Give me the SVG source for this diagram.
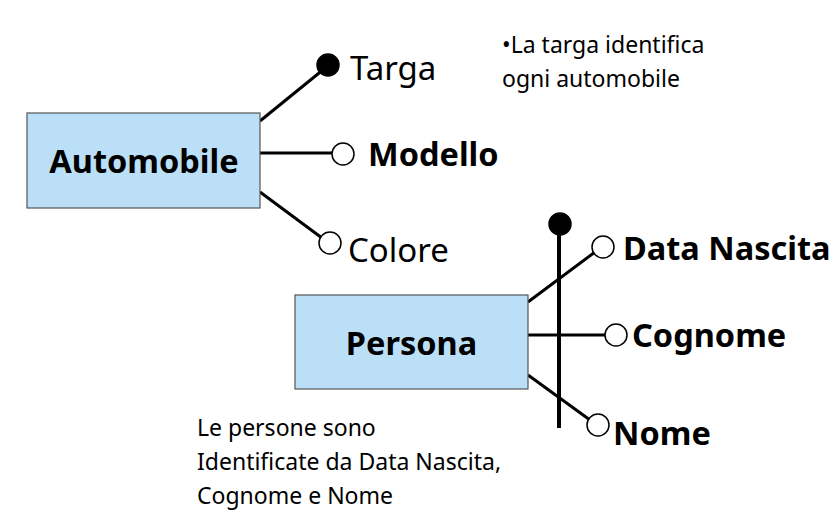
<svg xmlns="http://www.w3.org/2000/svg" width="838" height="522" viewBox="0 0 838 522">
<style>
.ent{fill:#bbdff7;stroke:#555;stroke-width:1.2}
.lbl{font-family:"Noto Sans","Open Sans",sans-serif;fill:#000}
.b{font-weight:bold;font-size:32.5px}
.n{font-size:33px}
.s{font-size:23px}
.ln{stroke:#000;stroke-width:3;fill:none}
.oc{fill:#fff;stroke:#000;stroke-width:1.5}
.fc{fill:#000;stroke:#000;stroke-width:1.5}
</style>
<rect width="838" height="522" fill="#fff"/>
<g id="connectors">
<line class="ln" x1="260" y1="121" x2="324" y2="69"/>
<line class="ln" x1="260" y1="153" x2="332" y2="153"/>
<line class="ln" x1="260" y1="192" x2="322" y2="238"/>
<line class="ln" x1="559" y1="226" x2="559" y2="428" style="stroke-width:4"/>
<line class="ln" x1="528" y1="302" x2="595" y2="252"/>
<line class="ln" x1="528" y1="335" x2="605" y2="335"/>
<line class="ln" x1="528" y1="375" x2="590" y2="420"/>
</g>
<g id="automobile">
<rect class="ent" x="27" y="113" width="233" height="95"/>
<text class="lbl b" x="144" y="173" text-anchor="middle">Automobile</text>
</g>
<g id="targa">
<circle class="fc" cx="328" cy="65" r="11"/>
<text class="lbl n" x="350" y="80">Targa</text>
</g>
<g id="modello">
<circle class="oc" cx="343" cy="154" r="11"/>
<text class="lbl b" x="368" y="166">Modello</text>
</g>
<g id="colore">
<circle class="oc" cx="330" cy="243" r="11"/>
<text class="lbl n" x="348" y="262">Colore</text>
</g>
<g id="persona">
<rect class="ent" x="295" y="295" width="233" height="94"/>
<text class="lbl b" x="411.5" y="355" text-anchor="middle">Persona</text>
</g>
<g id="persona-key">
<circle class="fc" cx="560" cy="224" r="11"/>
</g>
<g id="datanascita">
<circle class="oc" cx="603" cy="247" r="11"/>
<text class="lbl b" x="623" y="260">Data Nascita</text>
</g>
<g id="cognome">
<circle class="oc" cx="616" cy="335" r="11"/>
<text class="lbl b" x="632" y="347">Cognome</text>
</g>
<g id="nome">
<circle class="oc" cx="598" cy="425" r="11"/>
<text class="lbl b" x="613" y="445">Nome</text>
</g>
<g id="note-targa">
<text class="lbl s" x="502" y="53">•La targa identifica</text>
<text class="lbl s" x="502" y="87">ogni automobile</text>
</g>
<g id="note-persona">
<text class="lbl s" x="197" y="436">Le persone sono</text>
<text class="lbl s" x="197" y="470">Identificate da Data Nascita,</text>
<text class="lbl s" x="197" y="504">Cognome e Nome</text>
</g>
</svg>
